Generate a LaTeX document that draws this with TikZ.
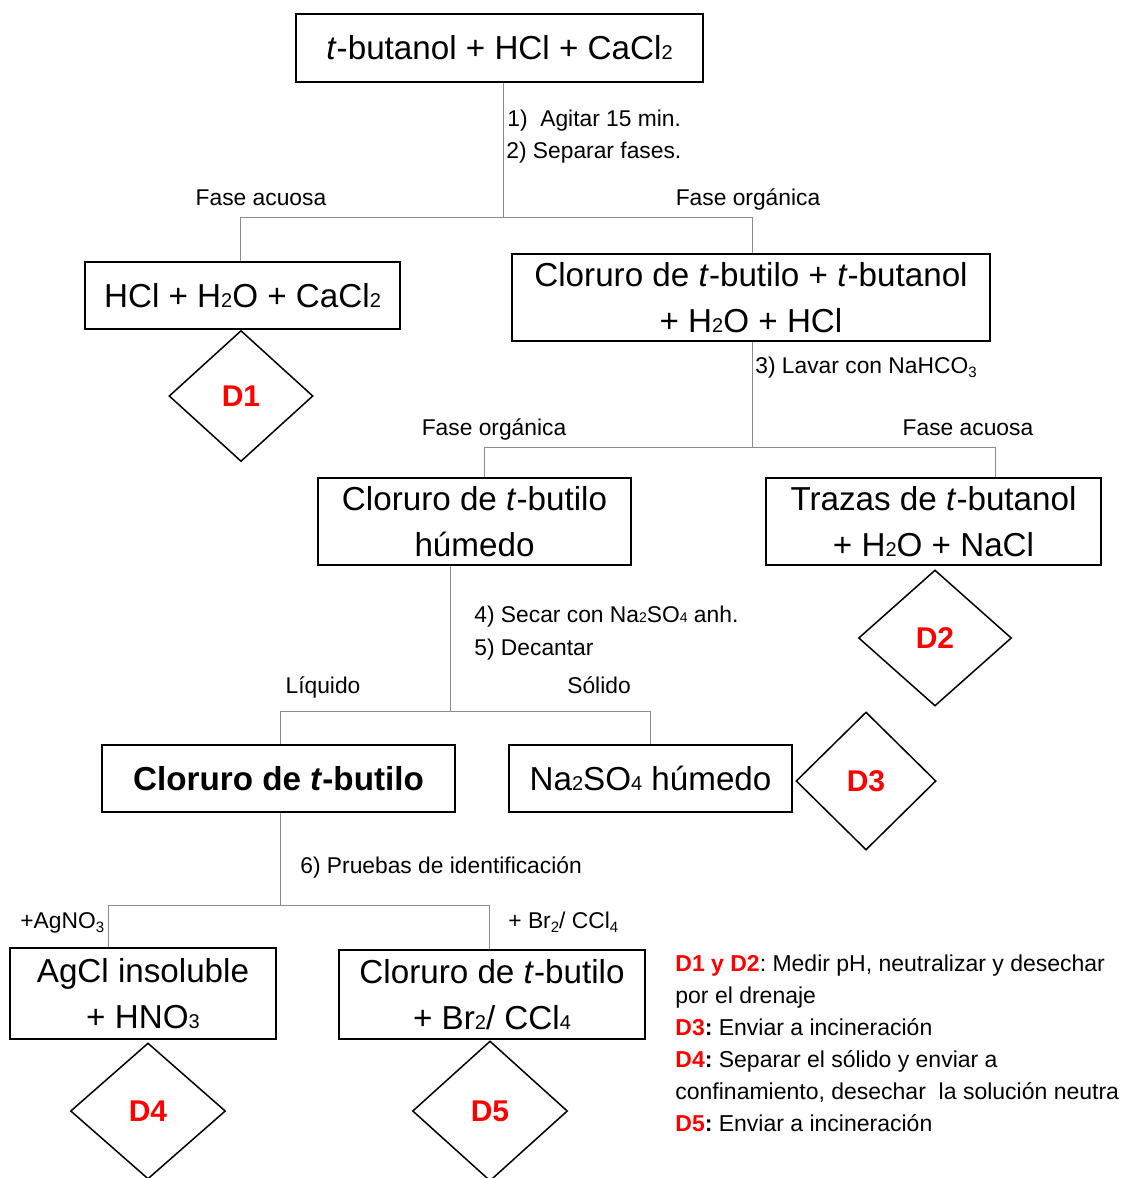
\documentclass[tikz,border=0pt]{standalone}
\usepackage{fontspec}
\setmainfont{Liberation Sans}
\usetikzlibrary{shapes.geometric,calc}
\frenchspacing
\newcommand{\bsub}[1]{{\fontsize{10}{10}\selectfont #1}}
\newcommand{\ssub}[1]{{\fontsize{7}{7}\selectfont #1}}
\newcommand{\lsub}[1]{\raisebox{-0.35ex}{\fontsize{7.5}{7.5}\selectfont #1}}
\begin{document}
\begin{tikzpicture}[x=0.5pt,y=-0.5pt,
    box/.style={draw,line width=0.75pt,inner sep=0pt,align=center,
      font=\fontsize{16.6}{23}\selectfont},
    dnode/.style={draw,diamond,line width=0.75pt,inner sep=0pt,
      font=\fontsize{15}{15}\selectfont\bfseries,text=red},
    link/.style={line width=0.5pt,black!45},
    lbl/.style={inner sep=0pt,font=\fontsize{11.4}{16}\selectfont},
    leg/.style={inner sep=0pt,anchor=base west,font=\fontsize{11.5}{16}\selectfont}]
    \useasboundingbox (0,0) rectangle (1125,1178);
    % boxes
    \node [box,minimum width=203.5pt,minimum height=34pt] (top) at (499.5,48)
      {\textit{t}-butanol + HCl + CaCl\bsub{2}};
    \node [box,minimum width=157.5pt,minimum height=33.5pt] (hcl) at (242.5,295.5)
      {HCl + H\bsub{2}O + CaCl\bsub{2}};
    \node [box,minimum width=239pt,minimum height=43.5pt] (org) at (751,297.5)
      {Cloruro de \textit{t}-butilo + \textit{t}-butanol\\+ H\bsub{2}O + HCl};
    \node [box,minimum width=156.5pt,minimum height=43.5pt] (humid) at (474.5,521.5)
      {Cloruro de \textit{t}-butilo\\húmedo};
    \node [box,minimum width=167.5pt,minimum height=43.5pt] (trazas) at (933.5,521.5)
      {Trazas de \textit{t}-butanol\\+ H\bsub{2}O + NaCl};
    \node [box,minimum width=176.5pt,minimum height=33.5pt] (clt) at (278.5,778.5)
      {\textbf{Cloruro de \textit{t}-butilo}};
    \node [box,minimum width=141.5pt,minimum height=33.5pt] (naso) at (650.5,778.5)
      {Na\bsub{2}SO\bsub{4} húmedo};
    \node [box,minimum width=133pt,minimum height=45.5pt] (agcl) at (143,993.5)
      {AgCl insoluble\\+ HNO\bsub{3}};
    \node [box,minimum width=153pt,minimum height=44.5pt] (brcl) at (492,994.5)
      {Cloruro de \textit{t}-butilo\\+ Br\bsub{2}/ CCl\bsub{4}};
    % diamonds
    \node [dnode,minimum width=72pt,minimum height=65.5pt] (d1) at (241,396) {D1};
    \node [dnode,minimum width=76.5pt,minimum height=68pt] (d2) at (935,638) {D2};
    \node [dnode,minimum width=70pt,minimum height=69pt] (d3) at (866,781) {D3};
    \node [dnode,minimum width=77.5pt,minimum height=68pt] (d4) at (148,1111) {D4};
    \node [dnode,minimum width=77.5pt,minimum height=70pt] (d5) at (490,1111) {D5};
    % first split
    \coordinate (s1) at (503,217);
    \coordinate (s1l) at (240,217);
    \coordinate (s1r) at (752,217);
    \draw [link] (top.south -| s1) -- (s1);
    \draw [link] (hcl.north -| s1l) |- (s1r) -- (org.north -| s1r);
    % second split
    \coordinate (s2) at (752,447);
    \coordinate (s2l) at (484,447);
    \coordinate (s2r) at (995,447);
    \draw [link] (org.south -| s2) -- (s2);
    \draw [link] (humid.north -| s2l) |- (s2r) -- (trazas.north -| s2r);
    % third split
    \coordinate (s3) at (450,711);
    \coordinate (s3l) at (280,711);
    \coordinate (s3r) at (650,711);
    \draw [link] (humid.south -| s3) -- (s3);
    \draw [link] (clt.north -| s3l) |- (s3r) -- (naso.north -| s3r);
    % fourth split
    \coordinate (s4) at (280,905);
    \coordinate (s4l) at (108,905);
    \coordinate (s4r) at (489,905);
    \draw [link] (clt.south -| s4) -- (s4);
    \draw [link] (agcl.north -| s4l) |- (s4r) -- (brcl.north -| s4r);
    % step labels
    \node [lbl,anchor=base west] (agit) at (507,126) {1)\ \ Agitar 15 min.};
    \node [lbl,anchor=base west] (sep) at (506,158) {2) Separar fases.};
    \node [lbl,anchor=base] (fa1) at (261,205) {Fase acuosa};
    \node [lbl,anchor=base] (fo1) at (748,205) {Fase orgánica};
    \node [lbl,anchor=base west] (lav) at (755,373) {3) Lavar con NaHCO\lsub{3}};
    \node [lbl,anchor=base] (fo2) at (494,435) {Fase orgánica};
    \node [lbl,anchor=base] (fa2) at (968,435) {Fase acuosa};
    \node [lbl,anchor=base west] (sec) at (474,622) {4) Secar con Na\ssub{2}SO\ssub{4} anh.};
    \node [lbl,anchor=base west] (dec) at (474,655) {5) Decantar};
    \node [lbl,anchor=base] (liq) at (323,693) {Líquido};
    \node [lbl,anchor=base] (sol) at (599,693) {Sólido};
    \node [lbl,anchor=base west] (prue) at (300,873) {6) Pruebas de identificación};
    \node [lbl,anchor=base west] (agno) at (20,928) {+AgNO\lsub{3}};
    \node [lbl,anchor=base west] (brad) at (508,928) {+ Br\lsub{2}/ CCl\lsub{4}};
    % legend
    \node [leg] (leg1) at (675,971)
      {\textcolor{red}{\textbf{D1 y D2}}: Medir pH, neutralizar y desechar};
    \node [leg] (leg2) at (675,1003) {por el drenaje};
    \node [leg] (leg3) at (675,1035) {\textbf{\textcolor{red}{D3}:} Enviar a incineración};
    \node [leg] (leg4) at (675,1067) {\textbf{\textcolor{red}{D4}:} Separar el sólido y enviar a};
    \node [leg] (leg5) at (675,1099) {confinamiento, desechar\ \ la solución neutra};
    \node [leg] (leg6) at (675,1131) {\textbf{\textcolor{red}{D5}:} Enviar a incineración};
\end{tikzpicture}
\end{document}
